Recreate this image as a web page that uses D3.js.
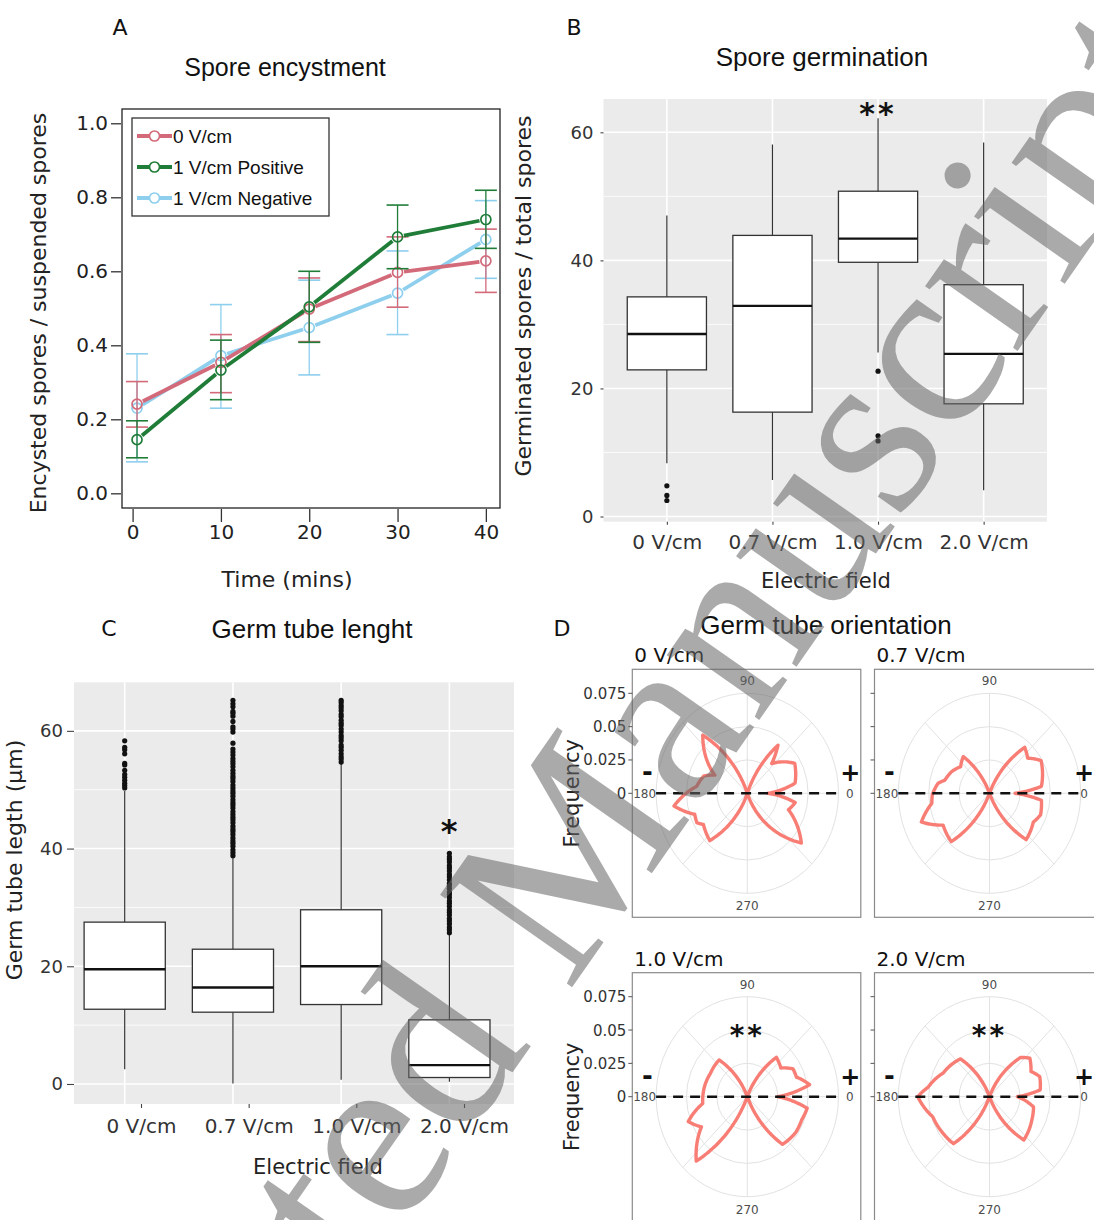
<!DOCTYPE html>
<html>
<head>
<meta charset="utf-8">
<script src="https://cdnjs.cloudflare.com/ajax/libs/d3/7.8.5/d3.min.js"></script>
<style>
  body { margin: 0; background: #fff; }
  text { font-family: "DejaVu Sans", sans-serif; }
</style>
</head>
<body>
<svg id="fig" width="1094" height="1220"></svg>
<script>
// ---- A: spore encystment (mean with error bars) ----
const times = [0.5, 10, 20, 30, 40];
const ctrlMean = [0.241, 0.354, 0.498, 0.597, 0.628];
const ctrlLow  = [0.179, 0.272, 0.410, 0.503, 0.543];
const ctrlHigh = [0.302, 0.429, 0.582, 0.693, 0.714];
const posMean  = [0.145, 0.333, 0.504, 0.693, 0.740];
const posLow   = [0.096, 0.253, 0.408, 0.607, 0.662];
const posHigh  = [0.196, 0.414, 0.600, 0.779, 0.819];
const negMean  = [0.230, 0.372, 0.448, 0.541, 0.686];
const negLow   = [0.085, 0.230, 0.320, 0.429, 0.581];
const negHigh  = [0.377, 0.510, 0.576, 0.655, 0.791];
const encystTicks = [0, 0.2, 0.4, 0.6, 0.8, 1.0];
const timeTicks = [0, 10, 20, 30, 40];

// ---- B: spore germination (box plots) ----
const fields = ["0 V/cm", "0.7 V/cm", "1.0 V/cm", "2.0 V/cm"];
const germLow  = [8.3, 5.7, 25.6, 4.1];
const germQ1   = [22.9, 16.3, 39.7, 17.6];
const germMed  = [28.5, 32.9, 43.4, 25.4];
const germQ3   = [34.3, 43.9, 50.8, 36.2];
const germHigh = [47.0, 58.1, 62.2, 58.4];
const germOut  = [[4.8, 3.3, 2.5], [], [22.7, 12.6, 11.8], []];
const germTicks = [0, 20, 40, 60];

// ---- C: germ tube length (box plots) ----
const tubeLow  = [2.5, 0.1, 0.7, 0.4];
const tubeQ1   = [12.7, 12.2, 13.5, 1.1];
const tubeMed  = [19.5, 16.4, 20.0, 3.2];
const tubeQ3   = [27.5, 22.9, 29.6, 10.9];
const tubeHigh = [49.8, 38.6, 54.6, 25.5];
const tubeOut0 = [50.3, 50.7, 51.1, 51.6, 52.1, 52.6, 53.3, 54.2, 54.5, 56.1, 56.8, 57.2, 58.3];
const tubeOut07 = [38.8, 39.3, 39.8, 40.4, 40.9, 41.3, 41.8, 42.4, 42.9, 43.3, 43.8, 44.4, 44.9, 45.3,
  45.8, 46.3, 46.9, 47.4, 47.8, 48.3, 48.9, 49.4, 49.8, 50.3, 50.8, 51.4, 51.9, 52.3, 52.8, 53.3,
  53.9, 54.4, 54.8, 55.3, 55.9, 56.4, 56.9, 57.9, 59.8, 60.3, 60.7, 61.6, 62.5, 63.0, 63.3, 64.1, 64.6, 65.2];
const tubeOut10 = [54.7, 55.2, 55.6, 56.1, 56.7, 57.2, 57.6, 58.3, 58.8, 59.2, 59.8, 60.3, 60.9, 61.3,
  61.8, 62.4, 62.8, 63.4, 63.9, 64.3, 64.8, 65.2];
const tubeOut20 = [25.7, 26.2, 26.6, 27.2, 27.7, 28.1, 28.7, 29.2, 29.6, 30.2, 30.7, 31.1, 31.7, 32.2,
  32.6, 33.2, 33.7, 34.1, 34.7, 35.2, 35.6, 36.2, 36.7, 37.1, 37.7, 38.2, 38.6, 39.2];
const tubeTicks = [0, 20, 40, 60];

// ---- D: germ tube orientation (angle in degrees, frequency) ----
const orient0Angle = [-70, -40, -20, -10, 0, 11, 30, 48, 55, 70, 110, 130, 153, 160, 173, 189, 200, 208, 213, 229, 250];
const orient0Freq  = [0, 0.058, 0.036, 0.040, 0.017, 0.040, 0.045, 0.030, 0.044, 0, 0, 0.057, 0.030, 0.038, 0.042, 0.061, 0.046, 0.047, 0.043, 0.047, 0];
const orient07Angle = [-68, -49, -31, -21, -7, 0, 7, 30, 40, 50, 68, 112, 128, 140, 152, 165, 170, 181, 189, 201, 212, 229, 248];
const orient07Freq  = [0, 0.046, 0.042, 0.045, 0.043, 0.021, 0.043, 0.049, 0.041, 0.045, 0, 0, 0.035, 0.031, 0.035, 0.038, 0.043, 0.047, 0.048, 0.060, 0.045, 0.048, 0];
const orient10Angle = [-68, -51, -34, -21, -10, 0, 10, 20, 29, 38, 51, 68, 112, 130, 150, 168, 188, 201, 211, 229, 248];
const orient10Freq  = [0, 0.046, 0.048, 0.048, 0.050, 0.025, 0.052, 0.043, 0.043, 0.035, 0.038, 0, 0, 0.036, 0.035, 0.036, 0.037, 0.052, 0.044, 0.064, 0];
const orient20Angle = [-68, -49, -27, -12, 0, 7, 20, 29, 41, 49, 68, 112, 130, 155, 172, 180, 198, 216, 230, 248];
const orient20Freq  = [0, 0.043, 0.039, 0.037, 0.023, 0.042, 0.044, 0.039, 0.044, 0.039, 0, 0, 0.037, 0.042, 0.051, 0.059, 0.049, 0.047, 0.046, 0];
const freqTicks = [0, 0.025, 0.05, 0.075];
const thetaTicks = [0, 90, 180, 270];

const svg = d3.select("#fig");
const tickFill = "#333";

function label(x, y, txt, size, opts = {}) {
  const t = svg.append("text").attr("x", x).attr("y", y).text(txt)
    .attr("font-size", size).attr("fill", opts.fill || "#111")
    .attr("text-anchor", opts.anchor || "middle");
  if (opts.family) t.style("font-family", opts.family);
  if (opts.weight) t.attr("font-weight", opts.weight);
  if (opts.rotate) t.attr("transform", `rotate(-90,${x},${y})`);
  return t;
}
const arial = '"Liberation Sans", Arial, sans-serif';

// ================= Panel A =================
const xA = d3.scaleLinear().domain([-1.2, 41.6]).range([122, 500]);
const yA = d3.scaleLinear().domain([-0.0397, 1.0386]).range([508, 109]);

label(120, 35, "A", 22);
label(285, 76, "Spore encystment", 25, {family: arial});

svg.append("rect").attr("x", xA.range()[0]).attr("y", yA.range()[1])
  .attr("width", xA.range()[1] - xA.range()[0]).attr("height", yA.range()[0] - yA.range()[1])
  .attr("fill", "none").attr("stroke", "#222").attr("stroke-width", 1.3);

const axA = svg.append("g").attr("transform", "translate(121,0)")
  .call(d3.axisLeft(yA).tickValues(encystTicks).tickFormat(d3.format(".1f")).tickSize(10).tickPadding(3));
const axAx = svg.append("g").attr("transform", "translate(0,509)")
  .call(d3.axisBottom(xA).tickValues(timeTicks).tickSize(13).tickPadding(3));
[axA, axAx].forEach(a => {
  a.select(".domain").remove();
  a.selectAll("line").attr("stroke", "#333").attr("stroke-width", 1.3);
  a.selectAll("text").attr("font-size", 20).attr("fill", "#222").style("font-family", '"DejaVu Sans"');
});

label(46, 313, "Encysted spores / suspended spores", 22, {rotate: true, fill: "#222"});
label(287, 587, "Time (mins)", 22, {fill: "#222"});

const encystSeries = [
  {name: "1 V/cm Negative", mean: negMean, lo: negLow, hi: negHigh, color: "#8ecfee"},
  {name: "0 V/cm", mean: ctrlMean, lo: ctrlLow, hi: ctrlHigh, color: "#d36a7a"},
  {name: "1 V/cm Positive", mean: posMean, lo: posLow, hi: posHigh, color: "#1f7d38"}
];

encystSeries.forEach(s => {
  const g = svg.append("g");
  // error bars
  times.forEach((t, i) => {
    const cx = xA(t);
    g.append("line").attr("x1", cx).attr("x2", cx).attr("y1", yA(s.lo[i])).attr("y2", yA(s.hi[i]))
      .attr("stroke", s.color).attr("stroke-width", 1.3);
    [s.lo[i], s.hi[i]].forEach(v => {
      g.append("line").attr("x1", cx - 11).attr("x2", cx + 11).attr("y1", yA(v)).attr("y2", yA(v))
        .attr("stroke", s.color).attr("stroke-width", 1.6);
    });
  });
  // connecting segments with a small gap around markers
  for (let i = 0; i < times.length - 1; i++) {
    const xa = xA(times[i]), ya = yA(s.mean[i]), xb = xA(times[i + 1]), yb = yA(s.mean[i + 1]);
    const len = Math.hypot(xb - xa, yb - ya), gap = 6.5;
    const ux = (xb - xa) / len, uy = (yb - ya) / len;
    g.append("line").attr("x1", xa + ux * gap).attr("y1", ya + uy * gap)
      .attr("x2", xb - ux * gap).attr("y2", yb - uy * gap)
      .attr("stroke", s.color).attr("stroke-width", 3.8);
  }
  g.selectAll("circle").data(times).join("circle")
    .attr("cx", d => xA(d)).attr("cy", (d, i) => yA(s.mean[i])).attr("r", 5)
    .attr("fill", "none").attr("stroke", s.color).attr("stroke-width", 1.7);
});

// legend
const leg = svg.append("g");
leg.append("rect").attr("x", 132).attr("y", 118).attr("width", 197).attr("height", 98)
  .attr("fill", "#fff").attr("stroke", "#333").attr("stroke-width", 1.3);
[encystSeries[1], encystSeries[2], encystSeries[0]].forEach((s, i) => {
  const y = 136 + i * 31;
  leg.append("line").attr("x1", 137).attr("x2", 172).attr("y1", y).attr("y2", y)
    .attr("stroke", s.color).attr("stroke-width", 3.8);
  leg.append("circle").attr("cx", 154.5).attr("cy", y).attr("r", 5)
    .attr("fill", "#fff").attr("stroke", s.color).attr("stroke-width", 1.7);
  leg.append("text").attr("x", 173).attr("y", y + 7).text(s.name)
    .attr("font-size", 19).attr("fill", "#111").style("font-family", arial);
});

// ================= Box plot helper (B, C) =================
function boxPanel(o) {
  const g = svg.append("g");
  const [xl, xr] = o.bgX, [yb, yt] = o.y.range();
  g.append("rect").attr("x", xl).attr("y", yt).attr("width", xr - xl).attr("height", yb - yt).attr("fill", "#ebebeb");
  g.selectAll(".minor").data(o.minor).join("line")
    .attr("x1", xl).attr("x2", xr).attr("y1", d => o.y(d)).attr("y2", d => o.y(d))
    .attr("stroke", "#fff").attr("stroke-width", 0.8);
  g.selectAll(".major").data(o.ticks).join("line")
    .attr("x1", xl).attr("x2", xr).attr("y1", d => o.y(d)).attr("y2", d => o.y(d))
    .attr("stroke", "#fff").attr("stroke-width", 1.6);
  g.selectAll(".vgrid").data(fields).join("line")
    .attr("x1", d => o.x(d)).attr("x2", d => o.x(d)).attr("y1", yt).attr("y2", yb)
    .attr("stroke", "#fff").attr("stroke-width", 1.6);

  const bw = o.x.step() * 0.75;
  fields.forEach((f, i) => {
    const cx = o.x(f);
    g.append("line").attr("x1", cx).attr("x2", cx).attr("y1", o.y(o.low[i])).attr("y2", o.y(o.high[i]))
      .attr("stroke", "#333").attr("stroke-width", 1.2);
    g.append("rect").attr("x", cx - bw / 2).attr("width", bw)
      .attr("y", o.y(o.q3[i])).attr("height", o.y(o.q1[i]) - o.y(o.q3[i]))
      .attr("fill", "#fff").attr("stroke", "#333").attr("stroke-width", 1.3);
    g.append("line").attr("x1", cx - bw / 2).attr("x2", cx + bw / 2)
      .attr("y1", o.y(o.med[i])).attr("y2", o.y(o.med[i]))
      .attr("stroke", "#111").attr("stroke-width", 2.4);
    g.selectAll(null).data(o.out[i]).join("circle")
      .attr("cx", cx).attr("cy", d => o.y(d)).attr("r", o.dot)
      .attr("fill", "#111");
  });

  const ay = svg.append("g").attr("transform", `translate(${xl},0)`)
    .call(d3.axisLeft(o.y).tickValues(o.ticks).tickSize(o.yTick).tickPadding(o.yPad));
  const ax = svg.append("g").attr("transform", `translate(0,${yb})`)
    .call(d3.axisBottom(o.xAxis).tickSize(o.xTick).tickPadding(o.xPad));
  [ay, ax].forEach(a => {
    a.select(".domain").remove();
    a.selectAll("line").attr("stroke", "#444").attr("stroke-width", 1.1);
    a.selectAll("text").attr("fill", tickFill).style("font-family", '"DejaVu Sans"');
  });
  ay.selectAll("text").attr("font-size", 18);
  ax.selectAll("text").attr("font-size", 20);
}

// ================= Panel B =================
label(574, 35, "B", 22);
label(822, 66, "Spore germination", 26, {family: arial});
const yB = d3.scaleLinear().domain([-0.81, 65.2]).range([521.7, 99]);
const xB = d3.scalePoint().domain(fields).range([603.5, 1047]).padding(0.6);
boxPanel({
  bgX: [603.5, 1047], x: xB, xAxis: xB, y: yB, ticks: germTicks, minor: [10, 30, 50],
  low: germLow, q1: germQ1, med: germMed, q3: germQ3, high: germHigh, out: germOut, dot: 2.6,
  yTick: 3, yPad: 7, xTick: 3, xPad: 10
});
label(531, 296, "Germinated spores / total spores", 22, {rotate: true, fill: "#222"});
label(826, 588, "Electric field", 21, {fill: "#222"});
label(878, 124, "**", 30, {weight: "bold"}).attr("letter-spacing", 3);

// ================= Panel C =================
label(109, 636, "C", 22);
label(312, 638, "Germ tube lenght", 26, {family: arial});
const yC = d3.scaleLinear().domain([-3.4, 68.25]).range([1104, 682.3]);
const xC = d3.scalePoint().domain(fields).range([124.7, 449.4]);
const xCAxis = d3.scalePoint().domain(fields).range([141, 464]);
boxPanel({
  bgX: [74, 514], x: xC, xAxis: xCAxis, y: yC, ticks: tubeTicks, minor: [10, 30, 50],
  low: tubeLow, q1: tubeQ1, med: tubeMed, q3: tubeQ3, high: tubeHigh,
  out: [tubeOut0, tubeOut07, tubeOut10, tubeOut20], dot: 2.6,
  yTick: 7, yPad: 4, xTick: 4, xPad: 11
});
label(22, 860, "Germ tube legth (\u00b5m)", 22, {rotate: true, fill: "#222"});
label(318, 1174, "Electric field", 21, {fill: "#222"});
label(449, 842, "*", 32, {weight: "bold"});

// ================= Panel D =================
label(562, 636, "D", 22);
label(826, 634, "Germ tube orientation", 26, {family: arial});

const rX = d3.scaleLinear().domain([0, 0.075]).range([0, 91.2]);
const rY = d3.scaleLinear().domain([0, 0.075]).range([0, 100]);

const orientPanels = [
  {name: "0 V/cm", angle: orient0Angle, freq: orient0Freq, cx: 747.3, cy: 793.3, left: true, star: false},
  {name: "0.7 V/cm", angle: orient07Angle, freq: orient07Freq, cx: 989.5, cy: 793.3, left: false, star: false},
  {name: "1.0 V/cm", angle: orient10Angle, freq: orient10Freq, cx: 747.3, cy: 1096.7, left: true, star: true},
  {name: "2.0 V/cm", angle: orient20Angle, freq: orient20Freq, cx: 989.5, cy: 1096.7, left: false, star: true}
];

// coord_polar style: each straight (theta, r) segment is drawn as a spiral piece
function polarSteps(angles, freqs) {
  const pts = [];
  for (let i = 0; i < angles.length - 1; i++) {
    const n = 20;
    for (let k = 0; k < n; k++) {
      const t = k / n;
      pts.push([angles[i] + t * (angles[i + 1] - angles[i]), freqs[i] + t * (freqs[i + 1] - freqs[i])]);
    }
  }
  pts.push([angles[angles.length - 1], freqs[freqs.length - 1]]);
  return pts;
}

orientPanels.forEach(p => {
  const g = svg.append("g");
  const px = (a, r) => p.cx + rX(r) * Math.cos(a * Math.PI / 180);
  const py = (a, r) => p.cy - rY(r) * Math.sin(a * Math.PI / 180);
  const top = p.cy - 124, left = p.cx - 115;
  const edge = x => Math.min(x, 1084);

  g.append("rect").attr("x", left).attr("y", top).attr("width", 228.5).attr("height", 248)
    .attr("fill", "#fff").attr("stroke", "#8a8a8a").attr("stroke-width", 1.2);
  label(left + 2, top - 7, p.name, 20, {anchor: "start"});

  // grid
  g.selectAll(".ring").data(freqTicks.slice(1)).join("ellipse")
    .attr("cx", p.cx).attr("cy", p.cy).attr("rx", d => rX(d)).attr("ry", d => rY(d))
    .attr("fill", "none").attr("stroke", "#e2e2e2").attr("stroke-width", 1);
  g.selectAll(".spoke").data(d3.range(0, 360, 45)).join("line")
    .attr("x1", p.cx).attr("y1", p.cy)
    .attr("x2", d => px(d, 0.075)).attr("y2", d => py(d, 0.075))
    .attr("stroke", "#e2e2e2").attr("stroke-width", 1);
  g.selectAll(".theta").data(thetaTicks).join("text")
    .attr("x", d => edge(px(d, 0.075 * 1.125))).attr("y", d => py(d, 0.075 * 1.125) + 4.5)
    .attr("text-anchor", "middle").attr("font-size", 12).attr("fill", "#4d4d4d").text(d => d);

  // r axis ticks
  g.selectAll(".rtick").data(freqTicks).join("line")
    .attr("x1", left - 4).attr("x2", left).attr("y1", d => p.cy - rY(d)).attr("y2", d => p.cy - rY(d))
    .attr("stroke", "#555").attr("stroke-width", 1);
  if (p.left) {
    g.selectAll(".rlab").data(freqTicks).join("text")
      .attr("x", left - 6).attr("y", d => p.cy - rY(d) + 5.5)
      .attr("text-anchor", "end").attr("font-size", 15).attr("fill", tickFill)
      .text(d => d === 0 ? "0" : String(d));
    label(572, p.cy, "Frequency", 21, {rotate: true, fill: "#222"}).attr("dy", "0.35em");
  }

  // frequency curve
  const pts = polarSteps(p.angle, p.freq);
  g.append("path").attr("d", d3.line().x(d => px(d[0], d[1])).y(d => py(d[0], d[1]))(pts))
    .attr("fill", "none").attr("stroke", "#f8766d").attr("stroke-width", 3.4)
    .attr("stroke-linejoin", "round").attr("opacity", 0.95);

  // dashed field line and electrode signs
  g.append("line").attr("x1", px(180, 0.075)).attr("x2", px(0, 0.075)).attr("y1", p.cy).attr("y2", p.cy)
    .attr("stroke", "#111").attr("stroke-width", 2.6).attr("stroke-dasharray", "10,7");
  label(p.cx - 100, p.cy - 12, "-", 26, {weight: "bold"});
  label(edge(p.cx + 103), p.cy - 12, "+", 24, {weight: "bold"});
  if (p.star) label(p.cx, p.cy - 52, "**", 28, {weight: "bold"}).attr("letter-spacing", 3);
});

// ================= watermark =================
const serif = '"Liberation Serif", serif';
const wm = svg.append("g").attr("transform", "translate(568,993) rotate(-55)")
  .attr("opacity", 0.55).attr("fill", "#666").style("pointer-events", "none");
wm.append("text").attr("x", -62).attr("text-anchor", "end").attr("font-size", 246)
  .style("font-family", serif).text("Accepted");
wm.append("text").attr("x", 0).attr("font-size", 246)
  .style("font-family", serif).text("Manuscript");
</script>
</body>
</html>
